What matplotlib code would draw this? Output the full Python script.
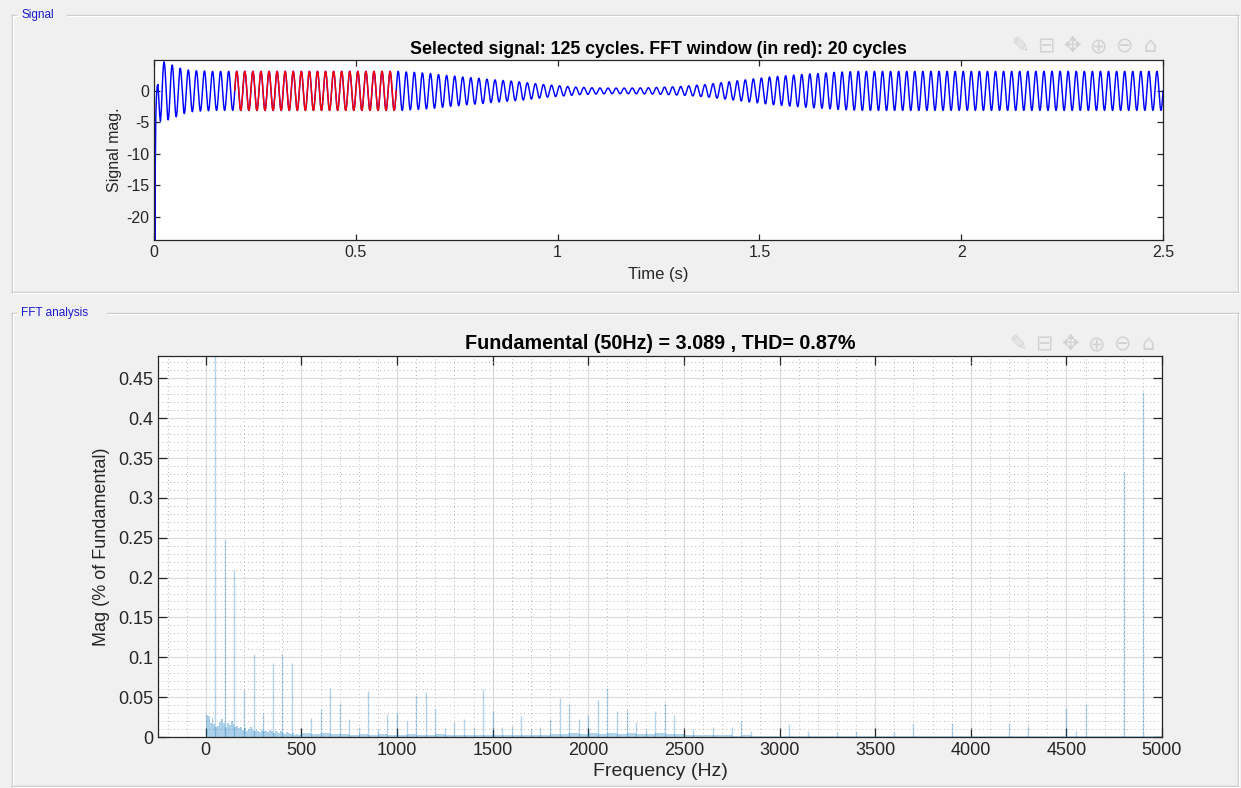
import numpy as np
import matplotlib
matplotlib.use("Agg")
import matplotlib.pyplot as plt
from matplotlib.lines import Line2D
from matplotlib.ticker import MultipleLocator

plt.rcParams['font.family'] = ['Liberation Sans', 'DejaVu Sans']
plt.rcParams['axes.unicode_minus'] = False

# ---------------- time-domain signal ----------------
f0 = 50.0                 # fundamental frequency (Hz)
n_cycles = 125
fft_window = (10, 30)     # cycles shown in red (0.2 s .. 0.6 s)

# start-up transient over the first cycle (time in s, value)
transient_t = [0.0, 0.0008, 0.0016, 0.0024, 0.0032, 0.0045, 0.006, 0.008,
               0.010, 0.012, 0.014, 0.016, 0.018, 0.020]
transient_v = [0.0, -23.6, -9.0, -23.6, -12.0, -4.0, -1.0, 0.8,
               1.0, -1.5, -3.8, -4.8, -3.2, 0.0]

# peak amplitude of each 50 Hz cycle
cycle_amp = [
    0.0, 4.6, 4.1, 3.6, 3.3, 3.2, 3.15, 3.1, 3.1, 3.1,
    3.1, 3.1, 3.1, 3.1, 3.1, 3.1, 3.1, 3.1, 3.1, 3.1,
    3.1, 3.1, 3.1, 3.1, 3.1, 3.1, 3.1, 3.1, 3.1, 3.1,
    3.1, 3.0, 2.95, 2.85, 2.75, 2.6, 2.45, 2.35, 2.2, 2.1,
    2.0, 1.85, 1.75, 1.65, 1.55, 1.45, 1.3, 1.15, 1.0, 0.9,
    0.8, 0.7, 0.6, 0.55, 0.5, 0.47, 0.45, 0.45, 0.45, 0.46,
    0.48, 0.5, 0.55, 0.6, 0.65, 0.7, 0.8, 0.9, 1.0, 1.15,
    1.3, 1.45, 1.6, 1.75, 1.9, 2.05, 2.2, 2.3, 2.4, 2.5,
    2.6, 2.7, 2.75, 2.85, 2.95, 3.0, 3.05, 3.1, 3.1, 3.1,
    3.1, 3.1, 3.1, 3.1, 3.1, 3.1, 3.1, 3.1, 3.1, 3.1,
    3.1, 3.1, 3.1, 3.1, 3.1, 3.1, 3.1, 3.1, 3.1, 3.1,
    3.1, 3.1, 3.1, 3.1, 3.1, 3.1, 3.1, 3.1, 3.1, 3.1,
    3.1, 3.1, 3.1, 3.1, 3.1,
]

signal_yticks = [-20, -15, -10, -5, 0]
signal_xticks = [0, 0.5, 1, 1.5, 2, 2.5]

# ---------------- spectrum ----------------
harm_freq = [50, 100, 150, 200, 250, 300, 350, 400, 450, 550, 600, 650, 700,
             750, 800, 850, 900, 950, 1000, 1050, 1100, 1150, 1200, 1250,
             1300, 1350, 1400, 1450, 1500, 1550, 1600, 1650, 1700, 1750,
             1800, 1850, 1900, 1950, 2000, 2050, 2100, 2150, 2200, 2250,
             2300, 2350, 2400, 2450, 2550, 2650, 2750, 2800, 2850, 3050,
             3150, 3300, 3400, 3600, 3700, 3900, 4200, 4300, 4500, 4550,
             4600, 4800, 4900]
harm_mag = [100.0, 0.248, 0.210, 0.059, 0.104, 0.030, 0.093, 0.104, 0.093,
            0.024, 0.035, 0.061, 0.043, 0.022, 0.012, 0.058, 0.010, 0.029,
            0.030, 0.020, 0.053, 0.057, 0.035, 0.011, 0.019, 0.022, 0.012,
            0.060, 0.032, 0.012, 0.014, 0.026, 0.010, 0.012, 0.022, 0.049,
            0.042, 0.023, 0.028, 0.046, 0.061, 0.032, 0.034, 0.019, 0.010,
            0.032, 0.043, 0.028, 0.010, 0.013, 0.012, 0.020, 0.008, 0.016,
            0.008, 0.006, 0.007, 0.006, 0.016, 0.017, 0.017, 0.014, 0.036,
            0.008, 0.042, 0.333, 0.433]

# background spectrum, 10 Hz bins below 500 Hz
noise_low_mag = [0.028, 0.026, 0.018, 0.024, 0.016, 0.012, 0.014, 0.019, 0.022, 0.017,
                 0.013, 0.018, 0.015, 0.020, 0.016, 0.012, 0.014, 0.011, 0.013, 0.009,
                 0.011, 0.008, 0.010, 0.012, 0.009, 0.007, 0.010, 0.008, 0.006, 0.009,
                 0.007, 0.008, 0.006, 0.009, 0.007, 0.005, 0.008, 0.006, 0.005, 0.007,
                 0.005, 0.004, 0.006, 0.005, 0.004, 0.005, 0.003, 0.004, 0.003, 0.004]
# background spectrum, 50 Hz bins from 500 Hz up
noise_high_mag = [0.005, 0.004, 0.005, 0.004, 0.004, 0.003, 0.004, 0.003, 0.004, 0.003,
                  0.003, 0.004, 0.003, 0.003, 0.004, 0.003, 0.003, 0.002, 0.003, 0.003,
                  0.003, 0.003, 0.002, 0.003, 0.003, 0.003, 0.004, 0.004, 0.005, 0.004,
                  0.005, 0.004, 0.005, 0.004, 0.005, 0.004, 0.004, 0.005, 0.004, 0.004,
                  0.002, 0.002, 0.002, 0.002, 0.002, 0.001, 0.002, 0.001, 0.001, 0.001,
                  0.001, 0.001, 0.001, 0.001, 0.001, 0.001, 0.001, 0.001, 0.001, 0.001,
                  0.001, 0.001, 0.001, 0.001, 0.001, 0.001, 0.001, 0.001, 0.001, 0.001,
                  0.001, 0.001, 0.001, 0.001, 0.001, 0.001, 0.001, 0.001, 0.001, 0.001,
                  0.001, 0.001, 0.001, 0.001, 0.001, 0.001, 0.001, 0.001, 0.001, 0.001]

fft_xticks = [0, 500, 1000, 1500, 2000, 2500, 3000, 3500, 4000, 4500, 5000]
fft_yticks = [0, 0.05, 0.1, 0.15, 0.2, 0.25, 0.3, 0.35, 0.4, 0.45]

# ---------------- figure ----------------
W, H = 1241, 788
BG = '#f0f0f0'
AX_C = '#262626'
fig = plt.figure(figsize=(W / 100, H / 100), dpi=100, facecolor=BG)


def fx(px):
    return px / W


def fy(py):
    return 1 - py / H


def panel(x0, y0, x1, y1, title, title_end):
    """Etched uipanel-style frame with a title in the top border."""
    segs = [([x0, x0 + 4], [y0, y0]), ([title_end, x1], [y0, y0]),
            ([x0, x0], [y0, y1]), ([x1, x1], [y0, y1]), ([x0, x1], [y1, y1])]
    for xs, ys in segs:
        fig.add_artist(Line2D([fx(v) for v in xs], [fy(v) for v in ys],
                              color='#c4c4c4', lw=1.0))
        fig.add_artist(Line2D([fx(v + 1) for v in xs], [fy(v + 1) for v in ys],
                              color='#ffffff', lw=1.0))
    fig.text(fx(x0 + 9), fy(y0), title, color='#1a1acc', fontsize=8.5,
             va='center', ha='left')


def toolbar(x_right, y_c):
    icons = ['\u270e', '\u229f', '\u2725', '\u2295', '\u2296', '\u2302']
    for i, ic in enumerate(icons):
        fig.text(fx(x_right - (len(icons) - 1 - i) * 26), fy(y_c), ic,
                 color='#d2d2d2', fontsize=15, ha='center', va='center',
                 family='DejaVu Sans')


panel(12, 15, 1238, 292, 'Signal', 67)
panel(12, 313, 1238, 786, 'FFT analysis', 107)


def style_axes(ax, ticklen):
    for s in ax.spines.values():
        s.set_color(AX_C)
        s.set_linewidth(0.9)
    ax.tick_params(which='major', direction='in', length=ticklen, width=0.9,
                   color=AX_C, labelcolor=AX_C, top=True, right=True)
    ax.tick_params(which='minor', length=0, top=True, right=True)


# ---- signal axes ----
ax1 = fig.add_axes([fx(154), fy(240), fx(1163) - fx(154), fy(60) - fy(240)])
ax1.set_facecolor('white')

fs = 10000.0
t_main = np.arange(1.0 / f0, n_cycles / f0 + 0.5 / fs, 1.0 / fs)
cyc = np.minimum((t_main * f0 + 1e-9).astype(int), n_cycles - 1)
amp = np.asarray(cycle_amp)[cyc]
y_main = amp * np.sin(2 * np.pi * f0 * t_main)

t_all = np.concatenate([transient_t, t_main])
y_all = np.concatenate([transient_v, y_main])
ax1.plot(t_all, y_all, color='#0000ff', lw=1.05)

w0, w1 = fft_window[0] / f0, fft_window[1] / f0
sel = (t_all >= w0) & (t_all <= w1)
ax1.plot(t_all[sel], y_all[sel], color='#ff0000', lw=1.05)

ax1.set_xlim(0, 2.5)
ax1.set_ylim(-23.65, 4.9)
ax1.set_xticks(signal_xticks)
ax1.set_xticklabels(['0', '0.5', '1', '1.5', '2', '2.5'])
ax1.set_yticks(signal_yticks)
style_axes(ax1, 4.5)
ax1.tick_params(labelsize=11.5)
ax1.set_title('Selected signal: 125 cycles. FFT window (in red): 20 cycles',
              fontsize=12.8, fontweight='bold', color='#000000', pad=4)
ax1.set_xlabel('Time (s)', fontsize=12, color=AX_C, labelpad=5)
ax1.set_ylabel('Signal mag.', fontsize=11.5, color=AX_C, labelpad=3)

# ---- spectrum axes ----
ax2 = fig.add_axes([fx(158), fy(737), fx(1162) - fx(158), fy(356) - fy(737)])
ax2.set_facecolor('white')
ax2.set_axisbelow(True)

blue = '#0072BD'
low_f = np.arange(0, 500, 10)
high_f = np.arange(500, 5000, 50)
ax2.bar(low_f, noise_low_mag, width=10, align='edge', color=blue,
        alpha=0.33, linewidth=0)
ax2.bar(high_f, noise_high_mag, width=50, align='edge', color=blue,
        alpha=0.3, linewidth=0)
ax2.vlines(harm_freq, 0, harm_mag, color=blue, alpha=0.3, lw=1.0)

ax2.set_xlim(-250, 5000)
ax2.set_ylim(0, 0.478)
ax2.set_xticks(fft_xticks)
ax2.set_yticks(fft_yticks)
ax2.set_yticklabels(['0', '0.05', '0.1', '0.15', '0.2', '0.25', '0.3',
                     '0.35', '0.4', '0.45'])
ax2.xaxis.set_minor_locator(MultipleLocator(100))
ax2.yaxis.set_minor_locator(MultipleLocator(0.01))
ax2.grid(which='major', color='#dcdcdc', lw=0.9)
ax2.grid(which='minor', color='#b4b4b4', lw=0.7, linestyle=(0, (1, 3)))
style_axes(ax2, 6.5)
ax2.tick_params(labelsize=13)
ax2.set_title('Fundamental (50Hz) = 3.089 , THD= 0.87%', fontsize=14.2,
              fontweight='bold', color='#000000', pad=5)
ax2.set_xlabel('Frequency (Hz)', fontsize=14, color=AX_C, labelpad=3)
ax2.set_ylabel('Mag (% of Fundamental)', fontsize=13, color=AX_C, labelpad=6)

toolbar(1150, 46)
toolbar(1148, 344)

fig.savefig('out.png', dpi=100, facecolor=BG)
